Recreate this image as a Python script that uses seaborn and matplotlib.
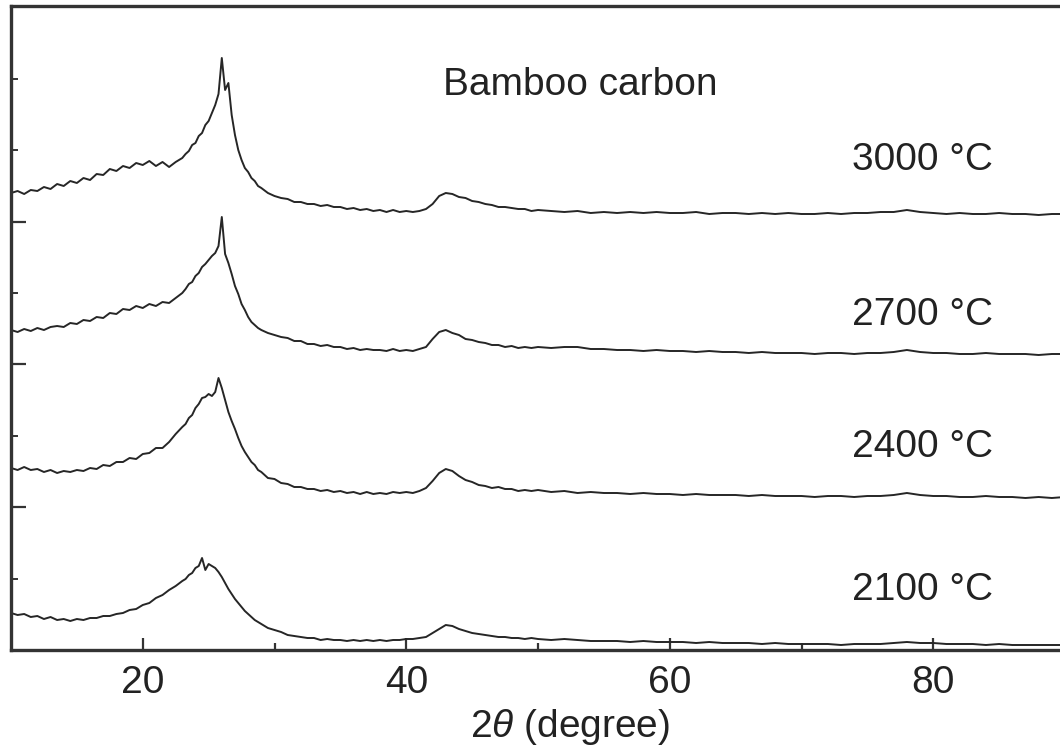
import numpy as np
import pandas as pd
import seaborn as sns
import matplotlib.pyplot as plt
from matplotlib.ticker import FixedLocator, NullFormatter

# === 1. Set up ===
sns.set_theme(style="ticks")
plt.rcParams['font.family'] = ['Liberation Sans', 'DejaVu Sans']
plt.rcParams['mathtext.fontset'] = 'custom'
plt.rcParams['mathtext.it'] = 'Liberation Sans:italic'
plt.rcParams['mathtext.rm'] = 'Liberation Sans'

# 2theta scan grid (finer around the (002) peak)
two_theta = np.concatenate([
    np.arange(10, 23.01, 0.5),
    np.arange(23.25, 29.01, 0.25),
    np.arange(29.5, 50.01, 0.5),
    np.arange(51, 90.01, 1.0),
])

# stacked intensities (a.u.)
int_3000 = (
    [457, 459, 456, 460, 459, 463, 461, 466, 464, 469, 467, 472, 470, 476, 475, 481, 479, 484, 482, 487,
     485, 489, 484, 488, 483, 488, 492]
    + [496, 499, 505, 507, 514, 517, 525, 529, 537, 545, 556, 592, 560, 567, 535, 515, 500, 490, 482, 478,
       472, 469, 464, 462]
    + [457, 454, 452, 451, 448, 448, 446, 446, 444, 445, 443, 443, 441, 442, 440, 441, 439, 440, 438, 440,
       438, 439, 438, 439, 441, 446, 454, 457, 456, 453, 452, 449, 448, 446, 445, 443, 443, 442, 441, 441,
       439, 440]
    + [439, 438, 439, 437, 438, 437, 438, 437, 438, 437, 437, 438, 436, 437, 437, 436, 437, 436, 437, 436,
       436, 437, 436, 437, 437, 438, 438, 440, 438, 437, 436, 437, 436, 436, 437, 436, 436, 435, 436, 436]
)
int_2700 = (
    [320, 318, 321, 319, 322, 320, 323, 324, 323, 327, 326, 330, 329, 333, 332, 337, 336, 341, 340, 344,
     342, 346, 344, 348, 347, 352, 357]
    + [361, 366, 368, 374, 377, 383, 386, 390, 394, 397, 404, 433, 396, 387, 376, 364, 356, 346, 340, 333,
       328, 325, 322, 320]
    + [317, 315, 313, 312, 309, 309, 306, 306, 304, 305, 303, 303, 301, 302, 300, 301, 300, 300, 299, 301,
       299, 300, 299, 301, 303, 311, 318, 320, 317, 315, 311, 310, 308, 307, 305, 305, 303, 304, 302, 303,
       302, 303]
    + [302, 303, 303, 301, 301, 300, 300, 299, 300, 299, 299, 298, 299, 298, 298, 297, 298, 297, 297, 297,
       296, 297, 297, 296, 297, 297, 298, 300, 298, 297, 297, 296, 296, 297, 296, 296, 296, 295, 296, 296]
)
int_2400 = (
    [182, 180, 183, 180, 181, 178, 180, 177, 179, 178, 180, 179, 182, 181, 185, 184, 188, 188, 192, 191,
     196, 197, 202, 202, 208, 216, 223]
    + [226, 232, 235, 242, 246, 252, 253, 256, 254, 258, 272, 262, 250, 238, 229, 221, 212, 204, 198, 193,
       188, 185, 180, 178]
    + [172, 171, 167, 166, 163, 163, 161, 161, 159, 160, 158, 159, 157, 158, 156, 158, 156, 157, 156, 158,
       157, 158, 157, 159, 162, 169, 177, 181, 179, 174, 170, 168, 165, 164, 162, 163, 161, 161, 159, 160,
       159, 160]
    + [158, 159, 157, 158, 157, 157, 156, 157, 156, 156, 155, 156, 155, 155, 155, 154, 155, 154, 154, 154,
       153, 154, 154, 153, 154, 154, 155, 157, 155, 154, 154, 153, 153, 154, 153, 153, 152, 153, 152, 153]
)
int_2100 = (
    [37, 35, 36, 33, 34, 31, 33, 30, 31, 29, 31, 30, 32, 32, 34, 34, 36, 37, 40, 41,
     45, 47, 52, 55, 60, 64, 69]
    + [71, 75, 77, 82, 84, 92, 80, 86, 84, 82, 78, 73, 67, 61, 56, 51, 47, 43, 39, 36,
       33, 30, 28, 26]
    + [22, 20, 18, 15, 14, 13, 12, 12, 10, 11, 10, 10, 9, 10, 9, 10, 9, 10, 9, 10,
       10, 11, 11, 12, 13, 17, 21, 25, 24, 21, 19, 17, 16, 15, 14, 13, 13, 12, 12, 11,
       12, 11]
    + [10, 11, 10, 9, 9, 9, 8, 9, 8, 8, 8, 7, 8, 7, 7, 7, 6, 7, 6, 6,
       6, 6, 5, 6, 6, 6, 7, 8, 7, 7, 6, 6, 6, 5, 6, 5, 5, 5, 5, 5]
)

temps = ['3000 °C', '2700 °C', '2400 °C', '2100 °C']
curves = [int_3000, int_2700, int_2400, int_2100]
label_x = 73.8
label_y = [490, 335, 203, 60]
title_txt = 'Bamboo carbon'

# long table for seaborn
df = pd.concat([
    pd.DataFrame({'two_theta': two_theta, 'intensity': c, 'T': t})
    for t, c in zip(temps, curves)
], ignore_index=True)

# === 2. Plot ===
fig = plt.figure(figsize=(10.6, 7.56), dpi=100)
ax = fig.add_axes([11 / 1060, 106 / 756, 1054 / 1060, 644 / 756])

for t in temps:
    sub = df[df['T'] == t]
    sns.lineplot(data=sub, x='two_theta', y='intensity', ax=ax,
                 color='#262626', linewidth=1.4, estimator=None, legend=False)

for t, yy in zip(temps, label_y):
    ax.text(label_x, yy, t, fontsize=28, color='#222222', ha='left', va='center')
ax.text(42.8, 565, title_txt, fontsize=28, color='#222222', ha='left', va='center')

ax.set_xlim(10, 90)
ax.set_ylim(0, 644)

ax.xaxis.set_major_locator(FixedLocator([20, 40, 60, 80]))
ax.xaxis.set_minor_locator(FixedLocator([30, 50, 70]))
ax.yaxis.set_major_locator(FixedLocator([142.8, 285.6, 428.4]))
ax.yaxis.set_minor_locator(FixedLocator([71.4, 214.2, 357.0, 499.8, 571.2]))
ax.yaxis.set_major_formatter(NullFormatter())

ax.tick_params(axis='x', which='major', direction='in', length=9, width=1.6,
               color='#333333', labelsize=28, pad=11, labelcolor='#222222')
ax.tick_params(axis='x', which='minor', direction='in', length=5, width=1.6, color='#333333')
ax.tick_params(axis='y', which='major', direction='in', length=11, width=1.6, color='#333333')
ax.tick_params(axis='y', which='minor', direction='in', length=5, width=1.4, color='#333333')

for side in ['left', 'bottom', 'top']:
    ax.spines[side].set_linewidth(2.4)
    ax.spines[side].set_color('#333333')
ax.spines['right'].set_visible(False)

ax.set_xlabel(r'2$\it{\theta}$ (degree)', fontsize=28, color='#222222')
ax.xaxis.set_label_coords((570 - 11) / 1054, -0.088)
ax.set_ylabel('')

fig.savefig('out.png', dpi=100)
plt.close(fig)
